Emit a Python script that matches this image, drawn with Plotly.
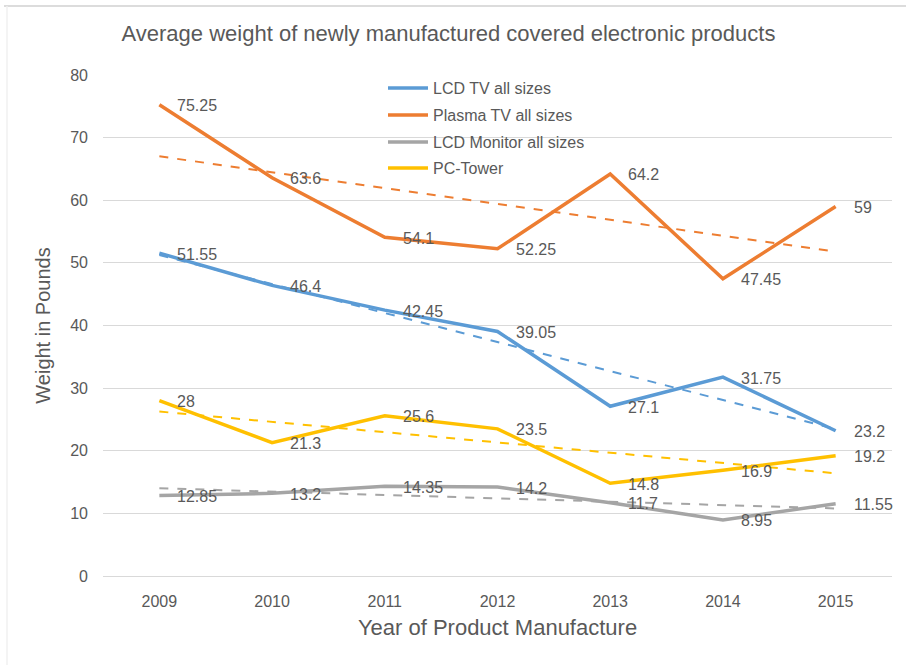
import numpy as np
import plotly.graph_objects as go

years = ["2009", "2010", "2011", "2012", "2013", "2014", "2015"]
lcd_tv = [51.55, 46.4, 42.45, 39.05, 27.1, 31.75, 23.2]
plasma_tv = [75.25, 63.6, 54.1, 52.25, 64.2, 47.45, 59]
lcd_monitor = [12.85, 13.2, 14.35, 14.2, 11.7, 8.95, 11.55]
pc_tower = [28, 21.3, 25.6, 23.5, 14.8, 16.9, 19.2]

series_names = ["LCD TV all sizes", "Plasma TV all sizes", "LCD Monitor all sizes", "PC-Tower"]
series_values = [lcd_tv, plasma_tv, lcd_monitor, pc_tower]
series_colors = ["#5B9BD5", "#ED7D31", "#A5A5A5", "#FFC000"]

FONT = "Liberation Sans"
TEXT_GRAY = "#595959"

PLOT_L, PLOT_R, PLOT_T, PLOT_B = 103, 892, 75, 576
PW, PH = PLOT_R - PLOT_L, PLOT_B - PLOT_T


def px_to_paper_y(py):
    return (PLOT_B - py) / PH


def px_to_paper_x(px):
    return (px - PLOT_L) / PW


fig = go.Figure()
idx = np.arange(len(years))

# Linear trendlines (least-squares fit over each series), drawn underneath
for vals, col in zip(series_values, series_colors):
    slope, intercept = np.polyfit(idx, vals, 1)
    fig.add_trace(go.Scatter(
        x=years, y=slope * idx + intercept, mode="lines",
        line=dict(color=col, width=2, dash="dash"),
        showlegend=False, hoverinfo="skip"))

# Main series, each in its own legend box so the rows get even spacing
legend_ids = ["legend", "legend2", "legend3", "legend4"]
legend_rows_px = [88, 115, 142, 168]
for name, vals, col, lid in zip(series_names, series_values, series_colors, legend_ids):
    fig.add_trace(go.Scatter(
        x=years, y=vals, mode="lines", name=name, legend=lid,
        line=dict(color=col, width=3.5)))

# Data labels to the right of each point (category index positions)
for vals in series_values:
    for i, v in enumerate(vals):
        fig.add_annotation(
            x=i, y=v, xref="x", yref="y", text=f"{v:g}", showarrow=False,
            xanchor="left", yanchor="middle", xshift=16, yshift=-1,
            font=dict(family=FONT, size=16, color=TEXT_GRAY))

legend_common = dict(
    xanchor="left", yanchor="middle", bgcolor="rgba(0,0,0,0)",
    font=dict(family=FONT, size=16, color=TEXT_GRAY), itemwidth=40,
)
legend_layout = {}
for lid, row in zip(legend_ids, legend_rows_px):
    legend_layout[lid] = dict(x=px_to_paper_x(383), y=px_to_paper_y(row), **legend_common)

fig.update_layout(
    width=906, height=665,
    margin=dict(l=PLOT_L, r=906 - PLOT_R, t=PLOT_T, b=665 - PLOT_B),
    paper_bgcolor="white", plot_bgcolor="white",
    font=dict(family=FONT, color=TEXT_GRAY),
    title=dict(text="Average weight of newly manufactured covered electronic products",
               x=0.495, xanchor="center", y=0.95, yanchor="middle",
               font=dict(family=FONT, size=22, color=TEXT_GRAY)),
    xaxis=dict(type="category", range=[-0.5, 6.5], showgrid=False,
               showline=False, ticks="", tickfont=dict(size=16, color=TEXT_GRAY),
               ticklabelstandoff=14,
               title=dict(text="Year of Product Manufacture",
                          font=dict(family=FONT, size=22, color=TEXT_GRAY), standoff=10)),
    yaxis=dict(range=[0, 80], dtick=10, showgrid=True, gridcolor="#D9D9D9",
               gridwidth=1.3, zeroline=True, zerolinecolor="#D9D9D9", zerolinewidth=1.3,
               showline=False, ticks="", tickfont=dict(size=16, color=TEXT_GRAY),
               ticklabelstandoff=14,
               title=dict(text="Weight in Pounds",
                          font=dict(family=FONT, size=20, color=TEXT_GRAY), standoff=14)),
    showlegend=True,
    **legend_layout,
)

# Faint chart border along the top and left edges
fig.add_shape(type="line", xref="paper", yref="paper",
              x0=px_to_paper_x(4), x1=px_to_paper_x(906),
              y0=px_to_paper_y(6), y1=px_to_paper_y(6),
              line=dict(color="#DCDCDC", width=2))
fig.add_shape(type="line", xref="paper", yref="paper",
              x0=px_to_paper_x(7), x1=px_to_paper_x(7),
              y0=px_to_paper_y(6), y1=px_to_paper_y(665),
              line=dict(color="#F0F0F0", width=1.5))

fig.write_html("out.html")
